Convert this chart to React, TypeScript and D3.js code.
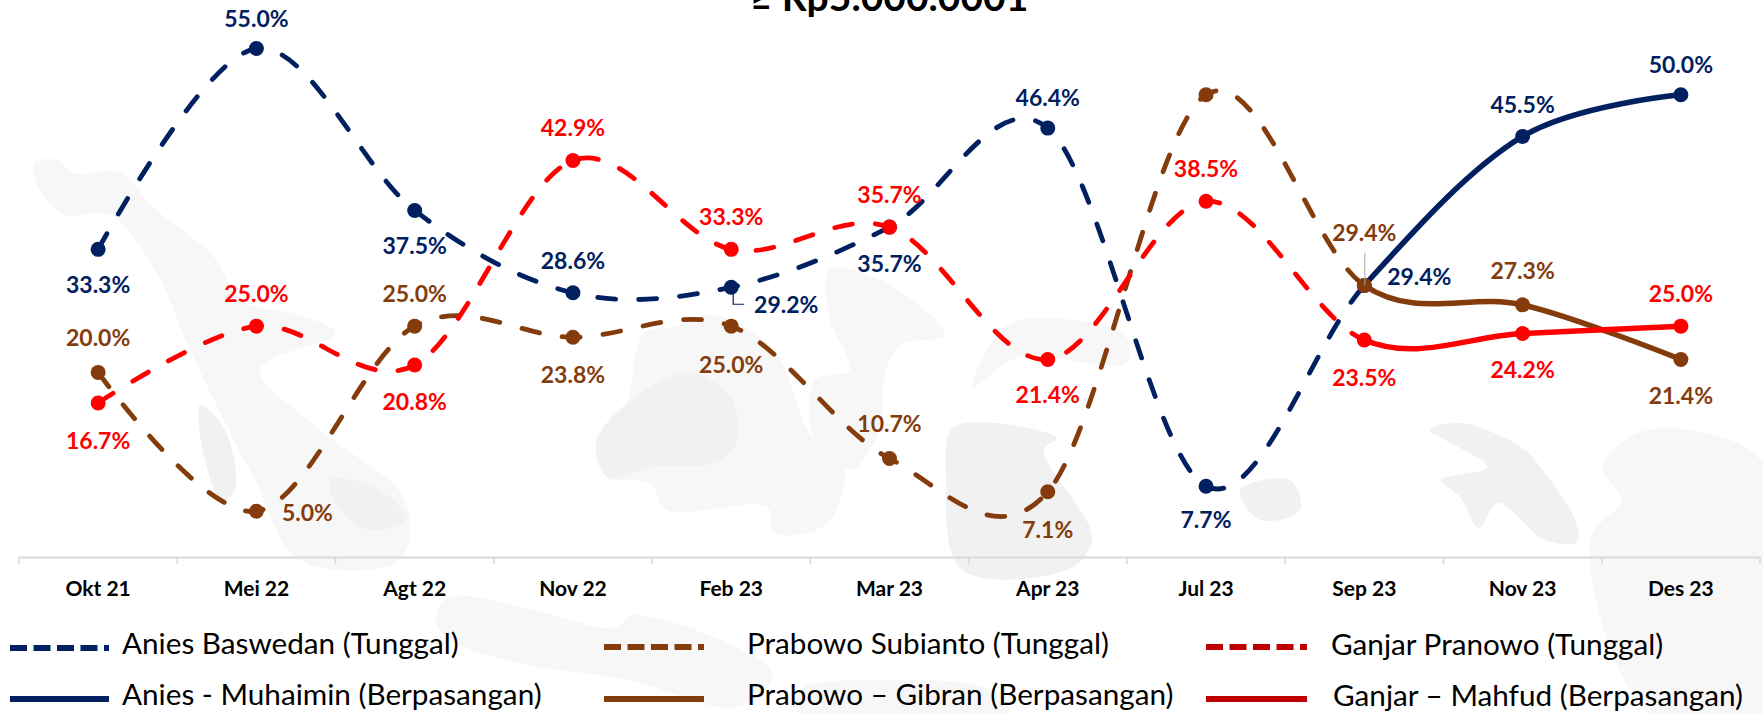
import React, { useEffect, useRef } from 'react';
import * as d3 from 'd3';

const categories = ['Okt 21', 'Mei 22', 'Agt 22', 'Nov 22', 'Feb 23', 'Mar 23', 'Apr 23', 'Jul 23', 'Sep 23', 'Nov 23', 'Des 23'];

// one series per candidate, the line turns solid after this index (Sep 23)
const SOLID_FROM = 8;
const anies = [33.3, 55.0, 37.5, 28.6, 29.2, 35.7, 46.4, 7.7, 29.4, 45.5, 50.0];
const prabowo = [20.0, 5.0, 25.0, 23.8, 25.0, 10.7, 7.1, 50.0, 29.4, 27.3, 21.4];
const ganjar = [16.7, 25.0, 20.8, 42.9, 33.3, 35.7, 21.4, 38.5, 23.5, 24.2, 25.0];

const NAVY = '#002060';
const BROWN = '#843c0c';
const RED = '#ff0000';
const DARK_RED = '#c00000';

// label offsets from the dot: [dx, dy], null means the point has no label
const aniesLabels = [[0, 44], [0, -22], [0, 44], [0, -24], [55, 26], [0, 45], [0, -22], [0, 42], [55, 0], [0, -23], [0, -22]];
const prabowoLabels = [[0, -26], [51, 10], [0, -24], [0, 46], [0, 47], [0, -26], [0, 46], null, [0, -44], [0, -26], [0, 45]];
const ganjarLabels = [[0, 46], [0, -24], [0, 45], [0, -24], [0, -24], [0, -24], [0, 44], [0, -24], [0, 46], [0, 44], [0, -24]];

const legendRows = [
  { text: 'Anies Baswedan (Tunggal)', color: NAVY, dashed: true, x0: 10, x1: 109, tx: 122, ty: 654, ly: 648 },
  { text: 'Prabowo Subianto (Tunggal)', color: BROWN, dashed: true, x0: 604, x1: 704, tx: 747, ty: 654, ly: 647 },
  { text: 'Ganjar Pranowo (Tunggal)', color: DARK_RED, dashed: true, x0: 1206, x1: 1307, tx: 1331, ty: 655, ly: 647 },
  { text: 'Anies - Muhaimin (Berpasangan)', color: NAVY, dashed: false, x0: 10, x1: 109, tx: 122, ty: 705, ly: 699 },
  { text: 'Prabowo – Gibran (Berpasangan)', color: BROWN, dashed: false, x0: 604, x1: 704, tx: 747, ty: 705, ly: 699 },
  { text: 'Ganjar – Mahfud (Berpasangan)', color: DARK_RED, dashed: false, x0: 1206, x1: 1307, tx: 1333, ty: 706, ly: 699 }
];

// pale map of Indonesia behind the chart, just decoration
const mapLight = [
  [[34, 163], [57, 160], [73, 173], [122, 173], [153, 207], [214, 257], [240, 300], [300, 315], [335, 333], [260, 370], [320, 430], [405, 500], [400, 560], [300, 560], [255, 480], [190, 350], [155, 270], [110, 215], [65, 215], [40, 190]],
  [[675, 327], [713, 315], [774, 350], [812, 437], [843, 457], [828, 523], [774, 533], [767, 507], [667, 510], [650, 483], [606, 477], [596, 440], [625, 407], [644, 333]],
  [[830, 270], [880, 280], [945, 335], [900, 345], [885, 375], [880, 430], [850, 470], [815, 440], [815, 380], [850, 370], [830, 320]],
  [[973, 387], [1011, 323], [1126, 337], [1126, 363], [1019, 357]],
  [[1590, 540], [1621, 500], [1602, 467], [1648, 430], [1763, 463], [1763, 714], [1650, 714]],
  [[436, 617], [451, 597], [533, 610], [614, 628], [635, 615], [772, 673], [737, 707], [630, 680], [517, 663], [446, 637]],
  [[800, 690], [880, 680], [990, 690], [1010, 714], [800, 714]]
];
const mapDark = [
  [[598, 437], [686, 372], [732, 400], [736, 443], [713, 463], [652, 467], [608, 477]],
  [[954, 427], [1057, 438], [1044, 450], [1092, 537], [1073, 567], [962, 570], [946, 477]],
  [[1429, 430], [1460, 423], [1521, 447], [1545, 473], [1575, 520], [1577, 542], [1545, 540], [1498, 503], [1479, 528], [1460, 497], [1441, 480], [1487, 467], [1445, 440]],
  [[200, 405], [225, 430], [235, 490], [222, 500], [205, 460]],
  [[330, 480], [380, 490], [405, 520], [370, 530], [340, 510]],
  [[1240, 490], [1290, 480], [1300, 510], [1260, 520]]
];

// collects the bezier pieces a d3 curve writes, so a line can be cut at a point
const recordSegments = (line, pts) => {
  const segments = [];
  let cur = null;
  line.context({
    moveTo: (a, b) => { cur = [a, b]; },
    lineTo: (a, b) => { segments.push([cur, [a, b]]); cur = [a, b]; },
    bezierCurveTo: (a, b, c, d, e, f) => { segments.push([cur, [a, b, c, d, e, f]]); cur = [e, f]; },
    closePath: () => {}
  })(pts);
  line.context(null);
  return segments;
};

const segmentsToPath = segments => {
  const p = d3.path();
  p.moveTo(segments[0][0][0], segments[0][0][1]);
  segments.forEach(s => {
    const c = s[1];
    if (c.length === 2) p.lineTo(c[0], c[1]);
    else p.bezierCurveTo(c[0], c[1], c[2], c[3], c[4], c[5]);
  });
  return p.toString();
};

const App = () => {
  const svgRef = useRef(null);

  useEffect(() => {
    d3.select(svgRef.current).selectAll('*').remove();
    const svg = d3.select(svgRef.current);

    const x = d3.scaleBand().domain(categories).range([19, 1760]);
    const y = d3.scaleLinear().domain([0, 55]).range([557.5, 48.5]);
    const cx = d => x(d) + x.bandwidth() / 2;

    const blob = d3.line().curve(d3.curveCatmullRomClosed.alpha(0.5));
    svg.append('g').selectAll('path').data(mapLight).join('path').attr('d', d => blob(d)).attr('fill', '#f7f7f7');
    svg.append('g').selectAll('path').data(mapDark).join('path').attr('d', d => blob(d)).attr('fill', '#f1f1f1');

    svg.append('text')
      .attr('x', 889).attr('y', 11)
      .attr('text-anchor', 'middle')
      .style('font', 'bold 39px Lato')
      .attr('fill', '#000')
      .text('≥ Rp5.000.0001');

    // axis: labels from d3, ticks on the band edges
    const axis = svg.append('g').attr('transform', 'translate(0,557)')
      .call(d3.axisBottom(x).tickSize(0).tickPadding(24));
    axis.select('.domain').attr('stroke', '#d9d9d9').attr('stroke-width', 2);
    axis.selectAll('text').attr('fill', '#000').style('font', 'bold 21px Lato');
    const edges = categories.map(c => x(c)).concat(x.range()[1]);
    svg.append('g').selectAll('line').data(edges).join('line')
      .attr('x1', d => d).attr('x2', d => d).attr('y1', 557).attr('y2', 564)
      .attr('stroke', '#d9d9d9').attr('stroke-width', 1.5);

    const series = [
      { values: anies, color: NAVY, labels: aniesLabels },
      { values: prabowo, color: BROWN, labels: prabowoLabels },
      { values: ganjar, color: RED, labels: ganjarLabels }
    ];

    const line = d3.line().curve(d3.curveCardinal.tension(0));

    series.forEach(s => {
      const pts = s.values.map((v, i) => [cx(categories[i]), y(v)]);
      const segs = recordSegments(line, pts);
      svg.append('path')
        .attr('d', segmentsToPath(segs.slice(0, SOLID_FROM)))
        .attr('fill', 'none')
        .attr('stroke', s.color)
        .attr('stroke-width', 4.8)
        .attr('stroke-linecap', 'round')
        .attr('stroke-dasharray', '18 23');
      svg.append('path')
        .attr('d', segmentsToPath(segs.slice(SOLID_FROM)))
        .attr('fill', 'none')
        .attr('stroke', s.color)
        .attr('stroke-width', 5.5)
        .attr('stroke-linecap', 'round');
      svg.append('g').selectAll('circle').data(pts).join('circle')
        .attr('cx', d => d[0]).attr('cy', d => d[1]).attr('r', 7.5)
        .attr('fill', s.color);
    });

    // leader lines
    svg.append('path').attr('d', d3.line()([[cx('Sep 23') + 0.5, 253], [cx('Sep 23') + 0.5, 285]]))
      .attr('fill', 'none').attr('stroke', '#a6a6a6').attr('stroke-width', 1);
    svg.append('path').attr('d', d3.line()([[cx('Feb 23') + 2, y(29.2) + 6], [cx('Feb 23') + 2, y(29.2) + 17], [cx('Feb 23') + 13, y(29.2) + 17]]))
      .attr('fill', 'none').attr('stroke', NAVY).attr('stroke-width', 1.2);

    series.forEach(s => {
      s.values.forEach((v, i) => {
        const off = s.labels[i];
        if (!off) return;
        svg.append('text')
          .attr('x', cx(categories[i]) + off[0])
          .attr('y', y(v) + off[1])
          .attr('text-anchor', 'middle')
          .style('font', 'bold 23px Lato')
          .attr('fill', s.color)
          .text(v.toFixed(1) + '%');
      });
    });

    legendRows.forEach(r => {
      svg.append('line')
        .attr('x1', r.x0).attr('x2', r.x1).attr('y1', r.ly).attr('y2', r.ly)
        .attr('stroke', r.color)
        .attr('stroke-width', 6)
        .attr('stroke-dasharray', r.dashed ? '17 6.5' : null);
      svg.append('text')
        .attr('x', r.tx).attr('y', r.ty)
        .style('font', '29.7px Lato')
        .attr('fill', '#000')
        .text(r.text);
    });
  }, []);

  return <svg ref={svgRef} width={1763} height={714} style={{ position: 'absolute', left: 0, top: 0, display: 'block' }}></svg>;
};

export default App;
